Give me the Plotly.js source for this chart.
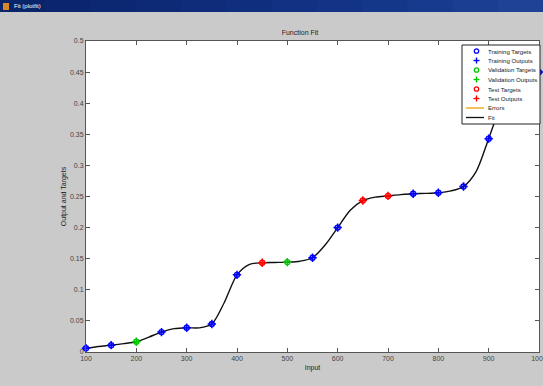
<!DOCTYPE html>
<html>
<head>
<meta charset="utf-8">
<script src="https://cdn.plot.ly/plotly-3.0.1.min.js"></script>
<style>
  html, body { margin: 0; padding: 0; background: #cacaca; }
  #chart { width: 543px; height: 386px; }
</style>
</head>
<body>
<div id="chart"></div>
<script>
// Training split
const trainInputs  = [100, 150, 250, 300, 350, 400, 550, 600, 750, 800, 850, 900, 1000];
const trainTargets = [0.006, 0.011, 0.032, 0.039, 0.045, 0.124, 0.1515, 0.200, 0.2545, 0.256, 0.266, 0.343, 0.450];
const trainOutputs = [0.006, 0.011, 0.032, 0.039, 0.045, 0.124, 0.1515, 0.200, 0.2545, 0.256, 0.266, 0.343, 0.450];

// Validation split
const valInputs  = [200, 500];
const valTargets = [0.0165, 0.1445];
const valOutputs = [0.0165, 0.1445];

// Test split
const testInputs  = [450, 650, 700];
const testTargets = [0.1435, 0.2435, 0.251];
const testOutputs = [0.1435, 0.2435, 0.251];

// Network response over the input range
const fitInputs = [100, 125, 150, 175, 200, 225, 250, 275, 300, 325, 350, 375, 400, 425, 450, 475,
                   500, 525, 550, 575, 600, 625, 650, 675, 700, 725, 750, 775, 800, 825, 850, 875,
                   900, 925, 950, 975, 1000];
const fitValues = [0.006, 0.0088, 0.011, 0.0135, 0.0165, 0.024, 0.032, 0.0375, 0.039, 0.0388, 0.045, 0.080,
                   0.124, 0.141, 0.1435, 0.144, 0.1445, 0.146, 0.1515, 0.172, 0.200, 0.228, 0.2435, 0.249,
                   0.251, 0.253, 0.2545, 0.255, 0.256, 0.259, 0.266, 0.290, 0.343, 0.398, 0.435, 0.449, 0.450];

// Axis ticks
const xTicks = [100, 200, 300, 400, 500, 600, 700, 800, 900, 1000];
const yTicks = [0, 0.05, 0.1, 0.15, 0.2, 0.25, 0.3, 0.35, 0.4, 0.45, 0.5];
const yTickLabels = ['0', '0.05', '0.1', '0.15', '0.2', '0.25', '0.3', '0.35', '0.4', '0.45', '0.5'];

// Legend entries
const legendLabels = ['Training Targets', 'Training Outputs', 'Validation Targets', 'Validation Outputs',
                      'Test Targets', 'Test Outputs', 'Errors', 'Fit'];

const BLUE = '#0000ff', GREEN = '#00c800', RED = '#ff0000', ORANGE = '#f0a000', BLACK = '#111111';
const FONT = 'Liberation Sans, Arial, sans-serif';

// Figure geometry (pixels)
const W = 543, H = 386;
const M = { l: 86, r: 4, t: 41, b: 34 };
const PW = W - M.l - M.r, PH = H - M.t - M.b;
const px = x => (x - M.l) / PW;          // pixel column -> paper x
const py = y => (H - M.b - y) / PH;      // pixel row    -> paper y

function targetsTrace(x, y, color, name) {
  return { x: x, y: y, name: name, type: 'scatter', mode: 'markers', showlegend: false, cliponaxis: false,
           marker: { symbol: 'circle-open', size: 5, color: color, line: { width: 1.4, color: color } } };
}
function outputsTrace(x, y, color, name) {
  return { x: x, y: y, name: name, type: 'scatter', mode: 'markers', showlegend: false, cliponaxis: false,
           marker: { symbol: 'cross-thin-open', size: 6, color: color, line: { width: 1.5, color: color } } };
}

// Error segments between each target and its output
const errX = [], errY = [];
[[trainInputs, trainTargets, trainOutputs], [valInputs, valTargets, valOutputs], [testInputs, testTargets, testOutputs]]
  .forEach(([xs, ts, os]) => xs.forEach((x, i) => { errX.push(x, x, null); errY.push(ts[i], os[i], null); }));

const traces = [
  { x: errX, y: errY, name: 'Errors', type: 'scatter', mode: 'lines', showlegend: false,
    line: { color: ORANGE, width: 1 } },
  { x: fitInputs, y: fitValues, name: 'Fit', type: 'scatter', mode: 'lines', showlegend: false,
    line: { color: BLACK, width: 1.4, shape: 'spline', smoothing: 0.8 } },
  targetsTrace(trainInputs, trainTargets, BLUE, 'Training Targets'),
  outputsTrace(trainInputs, trainOutputs, BLUE, 'Training Outputs'),
  targetsTrace(valInputs, valTargets, GREEN, 'Validation Targets'),
  outputsTrace(valInputs, valOutputs, GREEN, 'Validation Outputs'),
  targetsTrace(testInputs, testTargets, RED, 'Test Targets'),
  outputsTrace(testInputs, testOutputs, RED, 'Test Outputs')
];

const shapes = [];
const annotations = [];

// Window caption bar (stepped navy gradient)
const barColors = ['#0a246a', '#0b266e', '#0c2872', '#0d2a76', '#0e2c7a', '#0f2e7e',
                   '#113182', '#133486', '#15378a', '#183a8e', '#1b3e92', '#1f4296'];
barColors.forEach((c, i) => {
  shapes.push({ type: 'rect', xref: 'paper', yref: 'paper', layer: 'above',
    x0: px(i * W / barColors.length), x1: px((i + 1) * W / barColors.length + 1),
    y0: py(12), y1: py(0), fillcolor: c, line: { width: 0 } });
});
shapes.push({ type: 'rect', xref: 'paper', yref: 'paper', layer: 'above',
  x0: px(3), x1: px(9), y0: py(10), y1: py(3), fillcolor: '#d9852a', line: { width: 0 } });
annotations.push({ xref: 'paper', yref: 'paper', x: px(12), y: py(6), xanchor: 'left', yanchor: 'middle',
  text: 'Fit (plotfit)', showarrow: false, font: { family: FONT, size: 6, color: '#ffffff' } });

// Legend box
const LG = { x0: 462, x1: 540, y0: 45, y1: 124, row0: 51, step: 9.5, mark: 476.5, text: 486 };
shapes.push({ type: 'rect', xref: 'paper', yref: 'paper', layer: 'above',
  x0: px(LG.x0), x1: px(LG.x1), y0: py(LG.y1), y1: py(LG.y0),
  fillcolor: '#ffffff', line: { color: '#222222', width: 1 } });

const legendStyle = [
  { kind: 'circle', color: BLUE }, { kind: 'plus', color: BLUE },
  { kind: 'circle', color: GREEN }, { kind: 'plus', color: GREEN },
  { kind: 'circle', color: RED }, { kind: 'plus', color: RED },
  { kind: 'line', color: ORANGE }, { kind: 'line', color: BLACK }
];
legendLabels.forEach((label, i) => {
  const ry = LG.row0 + i * LG.step;
  const st = legendStyle[i];
  const anchorX = px(LG.mark), anchorY = py(ry);
  if (st.kind === 'circle') {
    shapes.push({ type: 'circle', xref: 'paper', yref: 'paper', layer: 'above',
      xsizemode: 'pixel', ysizemode: 'pixel', xanchor: anchorX, yanchor: anchorY,
      x0: -2.2, x1: 2.2, y0: -2.2, y1: 2.2, line: { color: st.color, width: 1.3 } });
  } else if (st.kind === 'plus') {
    shapes.push({ type: 'line', xref: 'paper', yref: 'paper', layer: 'above',
      xsizemode: 'pixel', ysizemode: 'pixel', xanchor: anchorX, yanchor: anchorY,
      x0: -3, x1: 3, y0: 0, y1: 0, line: { color: st.color, width: 1.4 } });
    shapes.push({ type: 'line', xref: 'paper', yref: 'paper', layer: 'above',
      xsizemode: 'pixel', ysizemode: 'pixel', xanchor: anchorX, yanchor: anchorY,
      x0: 0, x1: 0, y0: -3, y1: 3, line: { color: st.color, width: 1.4 } });
  } else {
    shapes.push({ type: 'line', xref: 'paper', yref: 'paper', layer: 'above',
      x0: px(466), x1: px(484), y0: anchorY, y1: anchorY, line: { color: st.color, width: 1.3 } });
  }
  annotations.push({ xref: 'paper', yref: 'paper', x: px(LG.text), y: anchorY, xanchor: 'left', yanchor: 'middle',
    text: label, showarrow: false, font: { family: FONT, size: 6.1, color: '#222222' } });
});

const axisCommon = {
  showline: true, linecolor: '#555555', linewidth: 1, mirror: 'ticks',
  ticks: 'inside', ticklen: 4, tickcolor: '#555555', tickwidth: 1,
  showgrid: false, zeroline: false, automargin: false, fixedrange: true,
  ticklabeloverflow: 'allow',
  tickfont: { family: FONT, size: 7, color: '#444444' }
};

const layout = {
  width: W, height: H,
  margin: { l: M.l, r: M.r, t: M.t, b: M.b, pad: 0 },
  paper_bgcolor: '#cacaca', plot_bgcolor: '#ffffff',
  showlegend: false,
  font: { family: FONT, size: 7, color: '#222222' },
  title: { text: 'Function Fit', font: { family: FONT, size: 7, color: '#222222' },
           xref: 'container', yref: 'container', x: 300 / W, y: 1 - 33 / H, xanchor: 'center', yanchor: 'middle' },
  xaxis: Object.assign({}, axisCommon, {
    range: [100, 1000], tickmode: 'array', tickvals: xTicks, ticktext: xTicks.map(String),
    title: { text: 'Input', font: { family: FONT, size: 7, color: '#222222' }, standoff: 3 }
  }),
  yaxis: Object.assign({}, axisCommon, {
    range: [0, 0.5], tickmode: 'array', tickvals: yTicks, ticktext: yTickLabels,
    title: { text: 'Output and Targets', font: { family: FONT, size: 7, color: '#222222' }, standoff: 2 }
  }),
  shapes: shapes,
  annotations: annotations
};

Plotly.newPlot('chart', traces, layout, { displayModeBar: false, staticPlot: true });
</script>
</body>
</html>
